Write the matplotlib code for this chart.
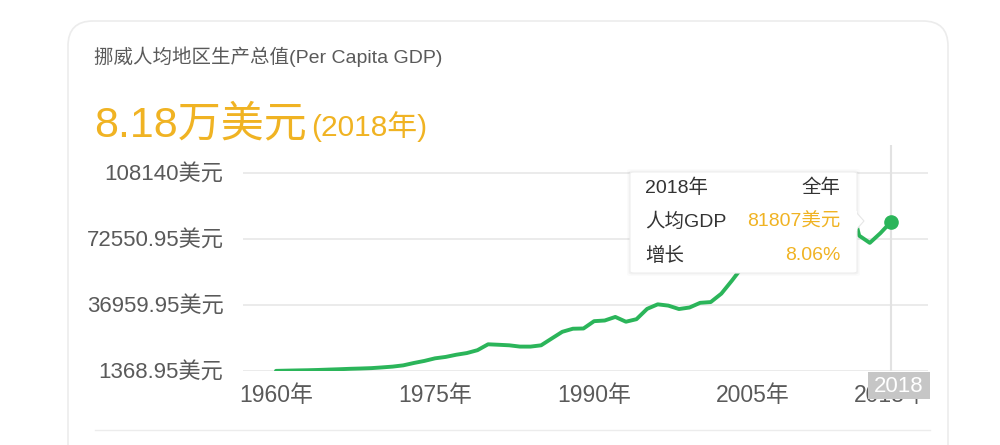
import matplotlib
matplotlib.use("Agg")
import matplotlib.pyplot as plt
from matplotlib.patches import FancyBboxPatch, Polygon, Rectangle
from matplotlib.lines import Line2D

plt.rcParams['font.family'] = ['Liberation Sans', 'Noto Sans CJK SC', 'DejaVu Sans']

# Norway per capita GDP (US$), 1960-2018
years = list(range(1960, 2019))
gdp = [1442, 1567, 1683, 1783, 1936, 2143, 2329, 2557, 2718, 2920,
       3306, 3736, 4413, 5689, 6811, 8204, 8955, 10139, 11046, 12596,
       15772, 15513, 15224, 14532, 14521, 15219, 18883, 22505, 24170, 24294,
       28243, 28597, 30524, 27942, 29316, 34876, 37321, 36629, 34788, 35607,
       38131, 38543, 43084, 50134, 57604, 66775, 74115, 85127, 96944, 79978,
       87693, 100600, 101524, 102913, 97019, 74356, 70460, 75704, 81807]
y_ticks = [1368.95, 36959.95, 72550.95, 108140]
y_labels = ['1368.95美元', '36959.95美元', '72550.95美元', '108140美元']
x_ticks = [1960, 1975, 1990, 2005, 2018]
x_labels = ['1960年', '1975年', '1990年', '2005年', '2018年']

title = '挪威人均地区生产总值(Per Capita GDP)'
headline = '8.18万美元'
headline_year = '(2018年)'
tip_year, tip_period = '2018年', '全年'
tip_value, tip_growth = '81807美元', '8.06%'

W, H = 1000, 445
green = '#2bb55a'
orange = '#f0b323'
grid_c = '#e8e8e8'
text_c = '#5a5a5a'

fig = plt.figure(figsize=(W / 100, H / 100), dpi=100)
fig.patch.set_facecolor('white')


def fx(px):
    return px / W


def fy(py):
    return 1 - py / H


# card outline
card = FancyBboxPatch((fx(68), fy(470)), fx(880), (470 - 21) / H,
                      boxstyle='round,pad=0,rounding_size=0.025',
                      transform=fig.transFigure, facecolor='none',
                      edgecolor='#ececec', lw=1.2, mutation_aspect=W / H, zorder=-1)
fig.patches.append(card)
fig.add_artist(Line2D([fx(95), fx(930)], [fy(430), fy(430)], color='#ececec', lw=1))

fig.text(fx(94), fy(57), title, fontsize=14, color=text_c, va='center')
t = fig.text(fx(94), fy(136), headline, fontsize=31, color=orange, va='baseline')
fig.canvas.draw()
bb = t.get_window_extent()
fig.text(bb.x1 / W + 0.004, fy(136), headline_year, fontsize=21.5, color=orange, va='baseline')

# plot area
top_px, bot_px = 145, 371
ax = fig.add_axes([fx(243), fy(bot_px), fx(928 - 243), (bot_px - top_px) / H])
ax.patch.set_alpha(0)
px_per_val = (371 - 173) / (108140 - 1368.95)
ax.set_ylim(1368.95, 1368.95 + (bot_px - top_px) / px_per_val)
px_per_year = (891 - 276) / 58
ax.set_xlim(1960 - (276 - 243) / px_per_year, 2018 + (928 - 891) / px_per_year)

for s in ax.spines.values():
    s.set_visible(False)
ax.set_yticks(y_ticks)
ax.set_yticklabels(y_labels, fontsize=16, color=text_c)
ax.set_xticks(x_ticks)
ax.set_xticklabels(x_labels, fontsize=16.5, color=text_c)
ax.tick_params(length=0, axis='y', pad=14)
ax.tick_params(length=0, axis='x', pad=9)
for v in y_ticks:
    ax.axhline(v, color=grid_c, lw=1.2, zorder=0)

ax.axvline(2018, color='#e2e2e2', lw=1.5, zorder=1)
ax.plot(years, gdp, color=green, lw=2.8, zorder=3, solid_joinstyle='round', solid_capstyle='round')
ax.plot([years[-1]], [gdp[-1]], 'o', color=green, ms=9.5, zorder=4)

# axis pointer label
fig.add_artist(Rectangle((fx(868), fy(399)), fx(62), 27 / H, transform=fig.transFigure,
                         facecolor='#c6c6c6', edgecolor='none', zorder=5))
fig.text(fx(899), fy(386), '2018', fontsize=16, color='white', ha='center', va='center', zorder=6)

# tooltip
for off, a in [(3, 0.015), (1.5, 0.03)]:
    fig.add_artist(FancyBboxPatch((fx(630 - off), fy(273 + off)), fx(227 + 2 * off), (101 + 2 * off) / H,
                                  boxstyle='round,pad=0,rounding_size=0.004', transform=fig.transFigure,
                                  facecolor='black', alpha=a, edgecolor='none', zorder=7))
fig.add_artist(FancyBboxPatch((fx(630), fy(273)), fx(227), 101 / H,
                              boxstyle='round,pad=0,rounding_size=0.004', transform=fig.transFigure,
                              facecolor='white', edgecolor='#eeeeee', lw=0.8, zorder=8))
fig.add_artist(Polygon([(fx(856), fy(212)), (fx(864), fy(221)), (fx(856), fy(230))], closed=True,
                       transform=fig.transFigure, facecolor='white', edgecolor='#e6e6e6', lw=0.8, zorder=8))
fig.add_artist(Line2D([fx(856), fx(856)], [fy(212.5), fy(229.5)], color='white', lw=1.5, zorder=9))

rows = [(188, tip_year, tip_period, '#333333'),
        (222, '人均GDP', tip_value, orange),
        (256, '增长', tip_growth, orange)]
for py, left, right, rc in rows:
    fig.text(fx(645), fy(py), left, fontsize=14, color='#333333', va='center', zorder=10)
    fig.text(fx(840), fy(py), right, fontsize=14, color=rc, va='center', ha='right', zorder=10)

fig.savefig('out.png', dpi=100, facecolor='white')
